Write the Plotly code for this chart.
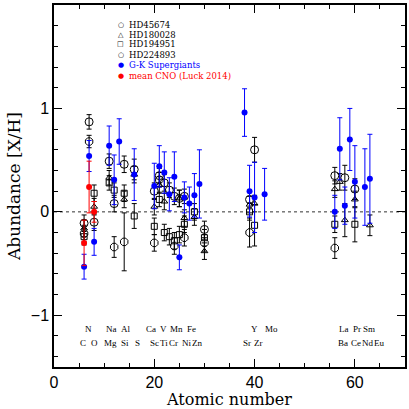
import plotly.graph_objects as go

# ---------------- data ----------------
# black programme stars: atomic number, [X/H], error
hd45674_z   = [6, 7, 8, 11, 12, 14, 16, 20, 21, 22, 23, 24, 25, 26, 30, 39, 40, 56, 58, 60]
hd45674_y   = [-0.11, 0.87, -0.10, 0.49, 0.08, 0.46, 0.41, 0.20, 0.35, 0.28, 0.21, 0.15, 0.13, 0.15, -0.17, 0.12, 0.60, 0.35, 0.33, 0.22]
hd45674_e   = [0.08, 0.07, 0.08, 0.07, 0.08, 0.08, 0.10, 0.08, 0.07, 0.08, 0.07, 0.08, 0.08, 0.07, 0.08, 0.08, 0.12, 0.08, 0.12, 0.10]

hd224893_z  = [6, 7, 12, 14, 20, 21, 24, 26, 30, 39, 56]
hd224893_y  = [-0.21, 0.68, -0.34, -0.29, -0.30, 0.31, -0.33, -0.25, -0.30, -0.20, -0.35]
hd224893_e  = [0.08, 0.06, 0.10, 0.28, 0.08, 0.07, 0.08, 0.08, 0.08, 0.14, 0.10]

hd180028_z  = [6, 8, 11, 14, 16, 20, 21, 22, 25, 26, 28, 30, 39, 40, 56, 57, 58, 60, 63]
hd180028_y  = [-0.16, 0.05, 0.33, 0.12, 0.36, 0.05, 0.26, 0.10, 0.13, -0.06, -0.05, -0.38, 0.07, 0.08, 0.22, 0.29, -0.08, 0.12, -0.13]
hd180028_e  = [0.08, 0.08, 0.07, 0.08, 0.08, 0.08, 0.08, 0.08, 0.08, 0.08, 0.08, 0.08, 0.08, 0.08, 0.08, 0.08, 0.16, 0.08, 0.10]

hd194951_z  = [6, 8, 11, 12, 14, 16, 20, 21, 22, 23, 24, 25, 26, 28, 30, 39, 40, 56, 60]
hd194951_y  = [-0.24, 0.18, 0.28, 0.21, 0.18, -0.04, -0.14, 0.12, -0.20, -0.24, -0.28, -0.22, -0.12, 0.00, -0.25, 0.00, -0.13, -0.12, -0.12]
hd194951_e  = [0.08, 0.08, 0.07, 0.07, 0.08, 0.12, 0.08, 0.07, 0.08, 0.08, 0.08, 0.08, 0.08, 0.08, 0.08, 0.08, 0.20, 0.08, 0.17]

# G-K supergiants (blue)
gk_z = [6, 7, 8, 11, 12, 13, 16, 20, 21, 22, 23, 24, 25, 26, 27, 28, 29, 38, 39, 40, 42, 56, 57, 58, 59, 60, 62, 63]
gk_y = [-0.53, 0.54, -0.29, 0.64, 0.31, 0.68, 0.36, 0.25, 0.44, 0.38, 0.17, 0.34, -0.44, 0.14, 0.08, 0.16, 0.27,
        0.96, 0.20, 0.14, 0.17, 0.00, 0.61, 0.06, 0.70, 0.29, 0.24, 0.32]
gk_e = [0.12, 0.15, 0.13, 0.19, 0.24, 0.22, 0.25, 0.22, 0.20, 0.20, 0.16, 0.24, 0.12, 0.15, 0.16, 0.21, 0.33,
        0.23, 0.25, 0.34, 0.25, 0.16, 0.30, 0.18, 0.30, 0.35, 0.37, 0.43]

# mean CNO (Luck 2014), red
cno_z = [6, 7, 8]
cno_y = [-0.30, 0.24, 0.00]
cno_e = [0.22, 0.25, 0.10]

# element labels (top row / bottom row)
top_labels = ["N", "Na", "Al", "Ca", "V", "Mn", "Fe", "Y", "Mo", "La", "Pr", "Sm"]
top_label_x = [6.8, 11.5, 14.4, 19.3, 21.8, 24.4, 27.5, 40.0, 43.3, 57.9, 60.4, 62.9]
bot_labels = ["C", "O", "Mg", "Si", "S", "Sc", "Ti", "Cr", "Ni", "Zn", "Sr", "Zr", "Ba", "Ce", "Nd", "Eu"]
bot_label_x = [5.8, 8.1, 11.2, 14.2, 16.6, 20.0, 21.9, 23.9, 26.5, 28.5, 38.4, 40.7, 57.7, 60.3, 62.6, 64.8]

legend_names = ["HD45674", "HD180028", "HD194951", "HD224893", "G-K Supergiants", "mean CNO (Luck 2014)"]

# ---------------- figure ----------------
fig = go.Figure()

def err(arr, color):
    return dict(type="data", array=arr, color=color, thickness=1, width=2.5, visible=True)

fig.add_trace(go.Scatter(x=hd45674_z, y=hd45674_y, mode="markers", name=legend_names[0],
                         marker=dict(symbol="circle-open", size=8, color="black", line=dict(width=1)),
                         error_y=err(hd45674_e, "black")))
fig.add_trace(go.Scatter(x=hd180028_z, y=hd180028_y, mode="markers", name=legend_names[1],
                         marker=dict(symbol="triangle-up-open", size=6, color="black", line=dict(width=1)),
                         error_y=err(hd180028_e, "black")))
fig.add_trace(go.Scatter(x=hd194951_z, y=hd194951_y, mode="markers", name=legend_names[2],
                         marker=dict(symbol="square-open", size=6, color="black", line=dict(width=1)),
                         error_y=err(hd194951_e, "black")))
fig.add_trace(go.Scatter(x=hd224893_z, y=hd224893_y, mode="markers", name=legend_names[3],
                         marker=dict(symbol="octagon-open", size=8, color="black", line=dict(width=1)),
                         error_y=err(hd224893_e, "black")))
fig.add_trace(go.Scatter(x=gk_z, y=gk_y, mode="markers", name=legend_names[4],
                         marker=dict(symbol="circle", size=6, color="blue"),
                         error_y=err(gk_e, "blue")))
fig.add_trace(go.Scatter(x=cno_z, y=cno_y, mode="markers", name=legend_names[5],
                         marker=dict(symbol="circle", size=6, color="red"),
                         error_y=err(cno_e, "red")))

# zero line
fig.add_shape(type="line", xref="paper", x0=0, x1=1, yref="y", y0=0, y1=0,
              line=dict(color="#333333", width=1, dash="dot"), layer="below")

lab_font = dict(family="Liberation Serif", size=9, color="#000000")
for t, x in zip(top_labels, top_label_x):
    fig.add_annotation(x=x, y=-1.13, text=t, showarrow=False, font=lab_font, xanchor="center", yanchor="middle")
for t, x in zip(bot_labels, bot_label_x):
    fig.add_annotation(x=x, y=-1.27, text=t, showarrow=False, font=lab_font, xanchor="center", yanchor="middle")

# manual legend
leg_sym = ["○", "△", "□", "○", "●", "●"]
leg_col = ["black", "black", "black", "black", "blue", "red"]
leg_py = [25, 34.5, 44.5, 54.5, 65, 75.5]
H = 409 - 5 - 42
W = 409 - 54 - 2
for s, n, c, py in zip(leg_sym, legend_names, leg_col, leg_py):
    yp = 1 - (py - 5) / H
    fig.add_annotation(xref="paper", yref="paper", x=(121 - 54) / W, y=yp, text=s, showarrow=False,
                       font=dict(family="DejaVu Sans", size=7, color=c), xanchor="center", yanchor="middle")
    fig.add_annotation(xref="paper", yref="paper", x=(127 - 54) / W, y=yp, text=n, showarrow=False,
                       font=dict(family="DejaVu Serif", size=8.5, color=c), xanchor="left", yanchor="middle")

axis_common = dict(showline=True, linecolor="black", linewidth=1.5, mirror="allticks",
                   ticks="inside", ticklen=8, tickwidth=1.2, tickcolor="black",
                   showgrid=False, zeroline=False,
                   tickfont=dict(family="Liberation Sans", size=16, color="black"))

fig.update_layout(
    width=409, height=409,
    margin=dict(l=54, r=2, t=5, b=42),
    plot_bgcolor="white", paper_bgcolor="white",
    showlegend=False,
    xaxis=dict(range=[0, 70], dtick=20, tick0=0,
               minor=dict(ticks="inside", dtick=5, ticklen=4, tickcolor="black", tickwidth=1.2),
               title=dict(text="Atomic number", font=dict(family="DejaVu Serif", size=16, color="black"), standoff=0),
               **axis_common),
    yaxis=dict(range=[-1.5, 2], dtick=1, tick0=0,
               minor=dict(ticks="inside", dtick=0.2, ticklen=4, tickcolor="black", tickwidth=1.2),
               title=dict(text="Abundance [X/H]", font=dict(family="DejaVu Serif", size=17, color="black"), standoff=6),
               **axis_common),
)

fig.write_html("out.html", config={"displayModeBar": False},
               post_script="document.body.style.margin='0';document.body.style.overflow='hidden';")
